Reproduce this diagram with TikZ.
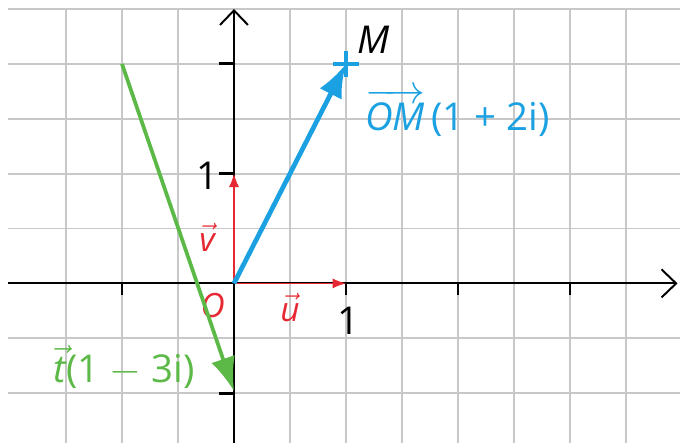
\documentclass[tikz,border=0pt]{standalone}
\usepackage{amsmath}
\usepackage{fontspec}
\setmainfont{Open Sans}
\usepackage{tikz}
\usetikzlibrary{arrows.meta, positioning}
\usepackage{xcolor}
\definecolor{omblue}{RGB}{27,161,226}
\definecolor{tgreen}{RGB}{92,185,71}
\definecolor{uvred}{RGB}{230,40,50}
\definecolor{gridgray}{RGB}{200,200,200}

\begin{document}
\begin{tikzpicture}[
		x=2cm, y=1.96cm,
		gridline/.style={
			draw=gridgray,
			line width=0.9pt
		},
		axis/.style={
			line width=1pt,
			-{Straight Barb[length=2.6mm, width=5mm, line width=1pt]}
		},
		tick/.style={
			line width=1.4pt
		},
		unitvec/.style={
			uvred,
			line width=0.7pt,
			-{Latex[length=2.4mm, width=1.8mm]}
		},
		bigvec/.style={
			line width=2.4pt,
			-{Latex[length=6mm, width=4.4mm]}
		},
		lbl/.style={
			font=\fontsize{19.5}{23}\selectfont,
			inner sep=1pt
		},
		small/.style={
			font=\fontsize{17}{20}\selectfont,
			inner sep=1pt
		}
		]
		
		\useasboundingbox (-2.089,-1.455) rectangle (3.982,2.582);
		
		% grid
		\foreach \y in {-1,-0.5,0.5,1,1.5,2,2.5}
		\draw[gridline] (-2.02,\y) -- (3.982,\y);
		\foreach \x in {-1.5,-1,...,3.5}
		\draw[gridline] (\x,-1.455) -- (\x,2.5);
		
		% axes
		\coordinate (O) at (0,0);
		\coordinate (xend) at (3.96,0);
		\coordinate (yend) at (0,2.5);
		\draw[axis] (-2.02,0) -- (xend);
		\draw[axis] (0,-1.455) -- (yend);
		\foreach \x in {-1,1,2,3}
		\draw[tick] (\x,0) -- (\x,-0.11);
		\foreach \y in {-1,1,2}
		\draw[tick] (0,\y) -- (-0.13,\y);
		
		\node[lbl] (one x) at (1.02,-0.34) {1};
		\node[lbl] (one y) at (-0.24,0.98) {1};
		
		% u and v
		\coordinate (U) at (1,0);
		\coordinate (V) at (0,1);
		\draw[unitvec] (O) -- (U);
		\draw[unitvec] (O) -- (V);
		\node[small, uvred] (origin) at (-0.19,-0.2) {\itshape O};
		\node[small, uvred] (u lbl) at (0.5,-0.22) {$\vec{\mbox{\itshape u}}$};
		\node[small, uvred] (v lbl) at (-0.24,0.42) {$\vec{\mbox{\itshape v}}$};
		
		% OM
		\coordinate (M) at (1,2);
		\draw[bigvec, omblue] (O) -- (M);
		\draw[omblue, line width=2.2pt] ([xshift=-2.3mm]M) -- ([xshift=2.3mm]M);
		\draw[omblue, line width=2.2pt] ([yshift=-2.3mm]M) -- ([yshift=2.3mm]M);
		\node[lbl] (m lbl) at (1.25,2.22) {\itshape M};
		\node[lbl, omblue, anchor=base west] (om lbl) at (1.15,1.39)
		{$\overrightarrow{\mbox{\itshape OM}}$\,(1 + 2i)};
		
		% t
		\coordinate (A) at (-1,2);
		\coordinate (B) at (0,-0.98);
		\draw[bigvec, tgreen, line width=1.9pt] (A) -- (B);
		\node[lbl, tgreen, anchor=base west] (t lbl) at (-1.63,-0.9)
		{$\vec{\mbox{\itshape t}}$(1 $-$ 3i)};
		
	\end{tikzpicture}
\end{document}
